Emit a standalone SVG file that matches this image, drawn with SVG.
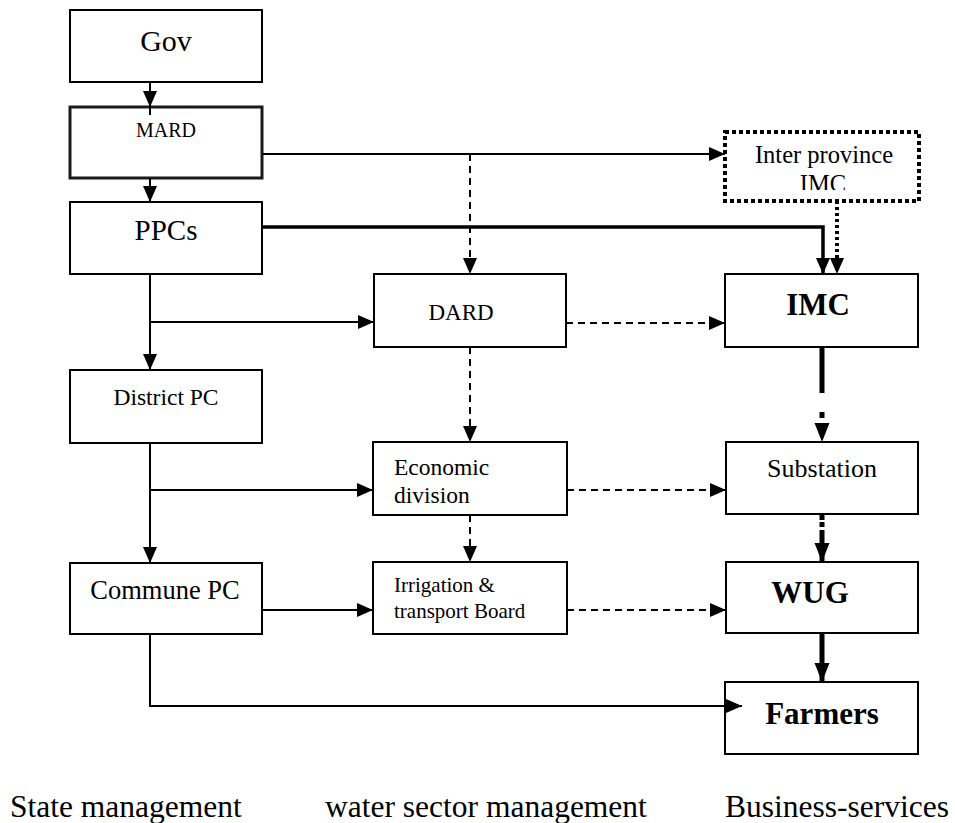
<svg xmlns="http://www.w3.org/2000/svg" width="955" height="823" viewBox="0 0 955 823">
<style>
.box{fill:#fff;stroke:#000;stroke-width:2}
.t{font-family:"Liberation Serif","Times New Roman",serif;fill:#000}
.b{font-weight:bold}
.c{text-anchor:middle}
.ln{fill:none;stroke:#000;stroke-width:2}
.dash{stroke-dasharray:7 5}
</style>
<defs>
<marker id="ah" markerUnits="userSpaceOnUse" markerWidth="16" markerHeight="14" refX="16" refY="7" orient="auto" overflow="visible">
<path d="M0,0 L16,7 L0,14 z" fill="#000"/>
</marker>
<marker id="ahL" markerUnits="userSpaceOnUse" markerWidth="19" markerHeight="15" refX="19" refY="7.5" orient="auto" overflow="visible">
<path d="M0,0 L19,7.5 L0,15 z" fill="#000"/>
</marker>
<clipPath id="ipclip"><rect x="725" y="132" width="195" height="58"/></clipPath>
</defs>

<g id="gov"><rect class="box" x="70" y="10" width="192" height="72"/><text class="t c" x="166" y="51" font-size="30">Gov</text></g>
<g id="mard"><rect class="box" style="stroke-width:3;stroke:#1a1a1a" x="70" y="107" width="192" height="71"/><text class="t c" x="166" y="137" font-size="20">MARD</text></g>
<g id="ppcs"><rect class="box" x="70" y="202" width="192" height="72"/><text class="t c" x="166" y="240" font-size="29">PPCs</text></g>
<g id="district-pc"><rect class="box" x="70" y="370" width="192" height="73"/><text class="t c" x="166" y="405" font-size="23.5">District PC</text></g>
<g id="commune-pc"><rect class="box" x="70" y="563" width="192" height="71"/><text class="t c" x="165" y="599" font-size="26.5">Commune PC</text></g>

<g id="dard"><rect class="box" x="374" y="274" width="192" height="73"/><text class="t c" x="461" y="320" font-size="23">DARD</text></g>
<g id="economic-division"><rect class="box" x="373" y="442" width="194" height="73"/><text class="t" x="394" y="475" font-size="23.5">Economic</text><text class="t" x="394" y="503" font-size="23.5">division</text></g>
<g id="irrigation-board"><rect class="box" x="373" y="562" width="194" height="72"/><text class="t" x="394" y="592" font-size="21">Irrigation &amp;</text><text class="t" x="394" y="618" font-size="21">transport Board</text></g>

<g id="inter-province-imc"><rect x="725" y="132" width="194" height="69" fill="#fff" stroke="#000" stroke-width="4" stroke-dasharray="4 3"/><text class="t c" x="824" y="163" font-size="24.5">Inter province</text><text class="t c" x="823" y="192" font-size="24.5" clip-path="url(#ipclip)">IMC</text></g>
<g id="imc"><rect class="box" x="725" y="274" width="193" height="73"/><text class="t b c" x="818" y="315" font-size="31">IMC</text></g>
<g id="substation"><rect class="box" x="726" y="442" width="192" height="72"/><text class="t c" x="822" y="477" font-size="26">Substation</text></g>
<g id="wug"><rect class="box" x="726" y="562" width="192" height="71"/><text class="t b c" x="810" y="603" font-size="31">WUG</text></g>
<g id="farmers"><rect class="box" x="725" y="682" width="193" height="72"/><text class="t b c" x="822" y="724" font-size="31">Farmers</text></g>

<g id="connectors">
<path class="ln" d="M150,82 V107" marker-end="url(#ah)"/>
<path class="ln" d="M150,107 V115"/>
<path class="ln" d="M150,178 V202" marker-end="url(#ah)"/>
<path class="ln" d="M262,154 H725" marker-end="url(#ah)"/>
<path class="ln dash" d="M470,154 V274" marker-end="url(#ah)"/>
<path class="ln" style="stroke-width:3.5" d="M262,227 H823 V274" marker-end="url(#ah)"/>
<path class="ln" style="stroke-width:4;stroke-dasharray:3 3" d="M837,201 V274" marker-end="url(#ah)"/>
<path class="ln" d="M150,275 V370" marker-end="url(#ah)"/>
<path class="ln" d="M150,322 H374" marker-end="url(#ah)"/>
<path class="ln dash" d="M566,323 H725" marker-end="url(#ah)"/>
<path class="ln dash" d="M470,347 V442" marker-end="url(#ah)"/>
<path class="ln" style="stroke-width:5;stroke-dasharray:46 19 6 200" d="M822,347 V442" marker-end="url(#ahL)"/>
<path class="ln" d="M150,443 V563" marker-end="url(#ah)"/>
<path class="ln" d="M150,490 H373" marker-end="url(#ah)"/>
<path class="ln dash" d="M567,490 H726" marker-end="url(#ah)"/>
<path class="ln dash" d="M470,515 V562" marker-end="url(#ah)"/>
<path class="ln" style="stroke-width:5;stroke-dasharray:5 2 5 3 40" d="M822,515 V562" marker-end="url(#ahL)"/>
<path class="ln" d="M262,610 H373" marker-end="url(#ah)"/>
<path class="ln dash" d="M567,610 H726" marker-end="url(#ah)"/>
<path class="ln" style="stroke-width:5" d="M822,633 V682" marker-end="url(#ahL)"/>
<path class="ln" d="M150,634 V706 H742" marker-end="url(#ah)"/>
</g>

<g id="labels">
<text class="t" x="10" y="817" font-size="31.5">State management</text>
<text class="t" x="325" y="817" font-size="31.5">water sector management</text>
<text class="t" x="725" y="817" font-size="31.5">Business-services</text>
</g>
</svg>
